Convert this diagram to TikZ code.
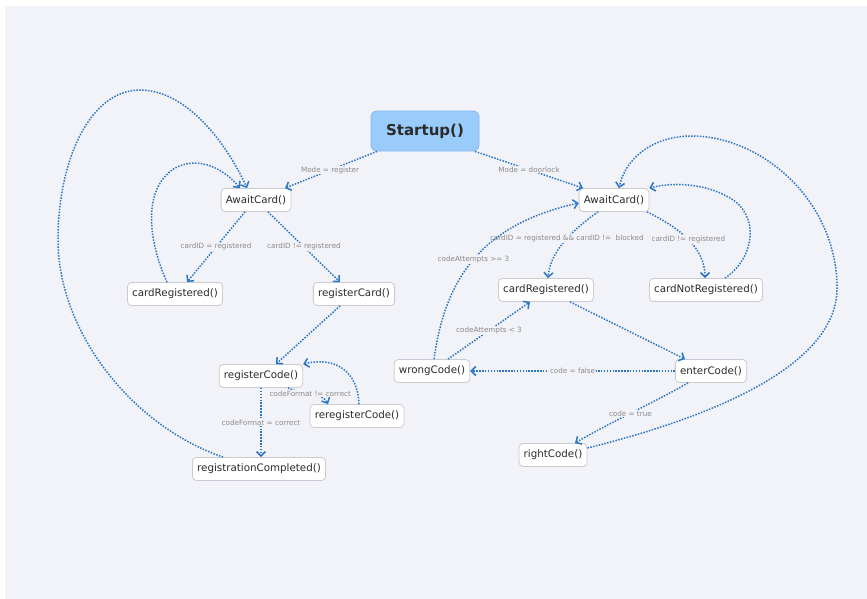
\documentclass[tikz,border=0pt]{standalone}
\usepackage{fontspec}
\setmainfont{DejaVu Sans}
\usetikzlibrary{arrows.meta,calc}
\definecolor{bgc}{HTML}{F2F3F8}
\definecolor{edgec}{HTML}{2A76C6}
\definecolor{lblc}{HTML}{8A8A8A}
\definecolor{txtc}{HTML}{2A2A2A}
\definecolor{boxc}{HTML}{CACACF}
\definecolor{stfill}{HTML}{99CBFB}
\definecolor{stdraw}{HTML}{86B9EC}
\begin{document}
\begin{tikzpicture}[x=1pt,y=-1pt,
 state/.style={draw=boxc, fill=white, rounded corners=4pt, line width=0.8pt, minimum height=23pt, inner xsep=4.7pt, inner ysep=0pt, text=txtc, font=\fontsize{10.3}{12}\selectfont},
 start/.style={draw=stdraw, fill=stfill, rounded corners=6pt, line width=0.8pt, minimum width=108pt, minimum height=40pt, text=txtc, font=\fontsize{15}{18}\selectfont\bfseries},
 conn/.style={draw=edgec, line width=1.5pt, dash pattern=on 1.5pt off 1.4pt, -{Straight Barb[length=4.5pt,width=9pt]}},
 lbl/.style={fill=bgc, text=lblc, inner sep=0.8pt, font=\fontsize{7.2}{8}\selectfont}
]
\useasboundingbox (0,0) rectangle (867,599);
\fill[white] (0,0) rectangle (867,599);
\fill[bgc] (5,6) rectangle (867,599);

\node[start] (st) at (425,131) {Startup()};
\node[state] (al) at (256,200) {AwaitCard()};
\node[state] (crl) at (175,294) {cardRegistered()};
\node[state] (rcd) at (354,294) {registerCard()};
\node[state] (rco) at (261,376) {registerCode()};
\node[state] (rrc) at (357,416) {reregisterCode()};
\node[state] (rgc) at (259,469) {registrationCompleted()};
\node[state] (ar) at (614,200) {AwaitCard()};
\node[state] (crr) at (546,290) {cardRegistered()};
\node[state] (cnr) at (706,290) {cardNotRegistered()};
\node[state] (wc) at (432,371) {wrongCode()};
\node[state] (ec) at (711,371) {enterCode()};
\node[state] (rc) at (553,455) {rightCode()};

% left part
\draw[conn] ($(st.south)+(-48,0)$) -- ($(al.north)+(29,0)$) node[lbl,pos=.51]{Mode = register};
\draw[conn] ($(al.south)+(-11,0)$) -- ($(crl.north)+(12,0)$) node[lbl,pos=.5]{cardID = registered};
\draw[conn] ($(al.south)+(12,0)$) -- ($(rcd.north)+(-14,0)$) node[lbl,pos=.5]{cardID != registered};
\draw[conn] ($(crl.north)+(-8,0)$) .. controls (150,245) and (140,190) .. (175,168)
  .. controls (200,155) and (225,170) .. ($(al.north)+(-16,0)$);
\draw[conn] ($(rgc.north)+(-36,0)$) .. controls (130,425) and (58,330) .. (58,240)
  .. controls (58,160) and (90,90) .. (140,90)
  .. controls (185,90) and (225,140) .. ($(al.north)+(-9,0)$);
\draw[conn] ($(rcd.south)+(-14,0)$) -- ($(rco.north)+(15,0)$);
\draw[conn] ($(rco.south)+(27,0)$) .. controls (300,394) and (322,392) .. ($(rrc.north)+(-29,0)$) node[lbl,pos=.5]{codeFormat != correct};
\draw[conn] ($(rrc.north)+(2,0)$) .. controls (358,372) and (336,356) .. (rco.north east);
\draw[conn] (rco.south) -- (rco.south |- rgc.north) node[lbl,pos=.5]{codeFormat = correct};

% right part
\draw[conn] ($(st.south)+(50,0)$) -- ($(ar.north)+(-31,0)$) node[lbl,pos=.5]{Mode = doorlock};
\draw[conn] ($(ar.south)+(-16,0)$) .. controls (572,230) and (550,252) .. ($(crr.north)+(2,0)$) node[lbl,pos=.45]{cardID = registered \&\& cardID !=~ blocked};
\draw[conn] ($(ar.south)+(33,0)$) .. controls (680,228) and (705,248) .. ($(cnr.north)+(-1,0)$) node[lbl,pos=.5]{cardID != registered};
\draw[conn] ($(cnr.north)+(19,0)$) .. controls (755,258) and (760,215) .. (730,198)
  .. controls (705,183) and (672,182) .. (ar.north east);
\draw[conn] ($(rc.east)+(0,-7)$) .. controls (700,420) and (835,370) .. (837,290)
  .. controls (838,200) and (760,135) .. (690,136)
  .. controls (650,137) and (625,160) .. ($(ar.north)+(5,0)$);
\draw[conn] ($(crr.south)+(24,0)$) -- ($(ec.north)+(-26,0)$);
\draw[conn] (ec.west) -- (wc.east) node[lbl,pos=.5]{code = false};
\draw[conn] ($(ec.south)+(-23,0)$) .. controls (655,402) and (605,425) .. ($(rc.north)+(22,0)$) node[lbl,pos=.5]{code = true};
\draw[conn] ($(wc.north)+(16,0)$) -- ($(crr.south)+(-16,0)$) node[lbl,pos=.5]{codeAttempts < 3};
\draw[conn] ($(wc.north)+(2,0)$) .. controls (445,280) and (480,225) .. ($(ar.west)+(0,3)$) node[lbl,pos=.5]{codeAttempts >= 3};
\end{tikzpicture}
\end{document}
